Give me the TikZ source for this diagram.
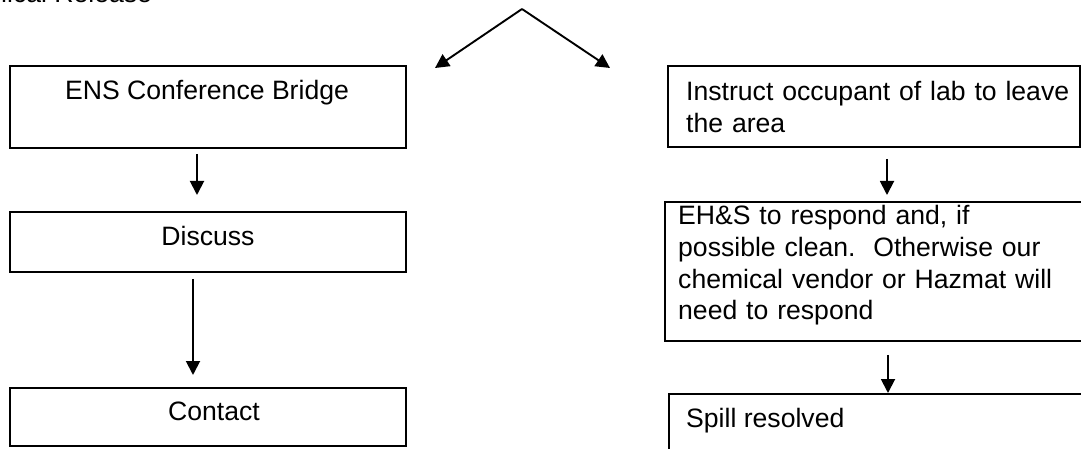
\documentclass[tikz,border=0pt]{standalone}
\usepackage{fontspec}
\setmainfont{Liberation Sans}
\usetikzlibrary{arrows.meta}
\begin{document}
\begin{tikzpicture}[x=1pt,y=-1pt,
  box/.style={draw,line width=1.9pt,rectangle,inner sep=0pt,anchor=north west},
  lbl/.style={inner sep=0pt,font=\fontsize{26.6}{31.5}\selectfont},
  arr/.style={line width=1.9pt,-{Triangle[length=14pt,width=14pt]}}]
\useasboundingbox (0,0) rectangle (1081,449);
\clip (0,0) rectangle (1081,449);
% title (clipped at top)
\node[lbl,anchor=base west] (title) at (-64,2.5) {Chemical Release};
% left column
\node[box,minimum width=396pt,minimum height=82pt] (ens) at (9,65) {};
\node[box,minimum width=396pt,minimum height=60pt] (discuss) at (9,211) {};
\node[box,minimum width=396pt,minimum height=58pt] (contact) at (9,387) {};
\node[lbl,anchor=base] (tens) at (207,100) {ENS Conference Bridge};
\node[lbl,anchor=base] (tdiscuss) at (208,245) {Discuss};
\node[lbl,anchor=base] (tcontact) at (214,420) {Contact};
% right column
\node[box,minimum width=412pt,minimum height=81pt] (instr) at (667,65) {};
\node[box,minimum width=431pt,minimum height=139pt] (ehs) at (664,201) {};
\node[box,minimum width=427pt,minimum height=80pt] (spill) at (668,393) {};
\node[lbl,anchor=base west,text width=420pt,align=left] (tinstr) at (686,100.7)
  {Instruct occupant of lab to leave\\the area};
\node[lbl,anchor=base west,text width=400pt,align=left] (tehs) at (678,225)
  {EH\&S to respond and, if\\possible clean.\ \ Otherwise our\\chemical vendor or Hazmat will\\need to respond};
\node[lbl,anchor=base west] (tspill) at (686,427) {Spill resolved};
% top split arrows
\coordinate (apex) at (522,9);
\coordinate (lt) at (435,68);
\coordinate (rt) at (610,68);
\draw[arr] (apex) -- (lt);
\draw[arr] (apex) -- (rt);
% vertical arrows
\coordinate (lx1) at (197,0);
\coordinate (lx2) at (193,0);
\coordinate (rx1) at (887,0);
\coordinate (rx2) at (888,0);
\draw[arr,shorten <=5pt,shorten >=16pt] (lx1 |- ens.south) -- (lx1 |- discuss.north);
\draw[arr,shorten <=6pt,shorten >=12pt] (lx2 |- discuss.south) -- (lx2 |- contact.north);
\draw[arr,shorten <=11pt,shorten >=6pt] (rx1 |- instr.south) -- (rx1 |- ehs.north);
\draw[arr,shorten <=13pt] (rx2 |- ehs.south) -- (rx2 |- spill.north);
\end{tikzpicture}
\end{document}
